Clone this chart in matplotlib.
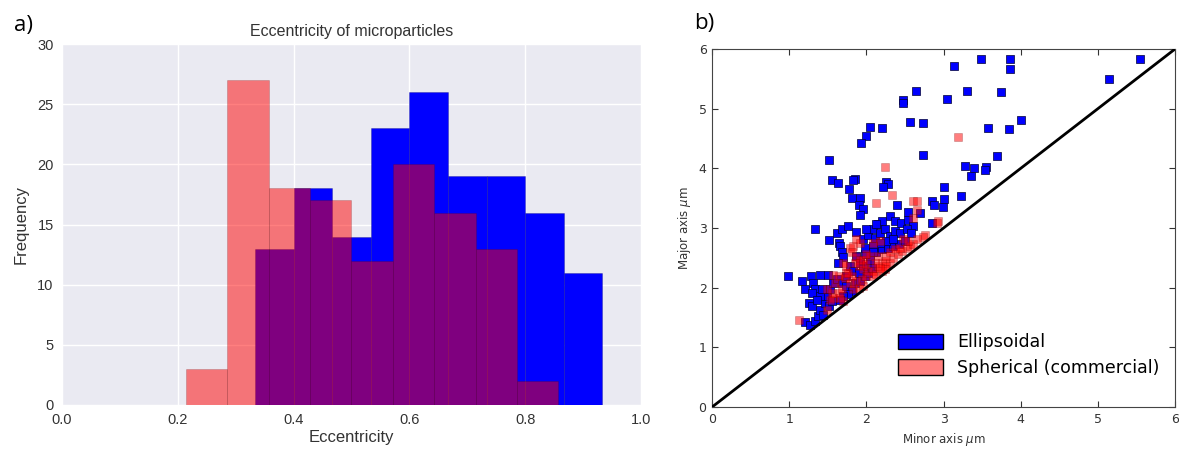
import numpy as np
import matplotlib
matplotlib.use("Agg")
import matplotlib.pyplot as plt
from matplotlib.patches import Patch

# histogram (a): bin edges and counts
ell_edges = [k / 15 for k in range(1, 15)]
ell_counts = [0, 0, 0, 0, 13, 18, 14, 23, 26, 19, 19, 16, 11]
sph_edges = [k / 14 for k in range(1, 13)]
sph_counts = [0, 0, 3, 27, 18, 17, 12, 20, 16, 13, 2]

# scatter (b): minor / major axis in um
ell_minor = [5.55, 5.15, 3.14, 3.48, 3.86, 3.86, 2.64, 3.30, 3.74, 2.48, 2.48, 3.04,
             2.57, 2.74, 3.58, 3.85, 4.00, 2.05, 2.20, 2.00, 1.93, 2.74, 3.69, 1.52,
             3.28, 3.39, 3.55, 3.54, 3.35, 1.56, 1.63, 1.85, 1.82, 2.26, 2.28, 2.21,
             1.78, 1.81, 1.92, 3.01, 3.01, 2.99, 3.23, 2.85, 2.87, 2.40, 1.91, 1.95,
             1.92, 2.54, 2.69, 2.85, 1.34, 1.51, 1.62, 1.69, 1.76, 1.86, 1.65, 1.66,
             1.68, 1.70, 1.63, 1.79, 0.99, 1.16, 1.28, 1.40, 1.50, 1.21, 1.31, 1.34,
             1.30, 1.26, 1.29, 1.21, 1.27, 1.34, 1.37, 1.40, 1.44, 1.46, 1.49, 1.53,
             1.57, 1.40, 1.42, 1.36, 1.51, 1.55, 1.62, 1.68, 1.74, 1.81, 1.76, 1.70,
             1.66, 1.85, 1.92, 1.98, 2.02, 2.07, 1.96, 2.05, 1.98, 2.13, 2.20, 2.28,
             2.35, 2.42, 2.50, 1.96, 2.02, 2.09, 2.15, 2.20, 2.30, 2.37, 2.45, 2.54,
             2.61, 2.11, 2.17, 2.24, 2.30, 2.37, 2.43, 2.52, 2.26, 2.17, 2.09, 1.98,
             2.35, 2.13, 2.00, 2.58, 1.87, 1.92, 1.83, 1.74, 1.90, 2.09]
ell_major = [5.84, 5.50, 5.71, 5.83, 5.83, 5.67, 5.29, 5.29, 5.28, 5.15, 5.10, 5.17,
             4.78, 4.76, 4.68, 4.66, 4.81, 4.69, 4.68, 4.54, 4.42, 4.23, 4.20, 4.14,
             4.04, 4.00, 4.03, 3.97, 3.87, 3.81, 3.76, 3.83, 3.80, 3.77, 3.73, 3.69,
             3.66, 3.50, 3.51, 3.69, 3.49, 3.35, 3.54, 3.46, 3.39, 3.38, 3.38, 3.32,
             3.21, 3.27, 3.25, 3.08, 2.98, 2.80, 2.92, 2.98, 3.03, 2.94, 2.75, 2.70,
             2.59, 2.51, 2.42, 2.36, 2.20, 2.11, 2.20, 2.22, 2.22, 1.98, 2.07, 1.98,
             1.91, 1.75, 1.69, 1.43, 1.38, 1.44, 1.52, 1.63, 1.55, 1.75, 1.86, 1.97,
             2.08, 1.86, 1.97, 1.80, 1.69, 1.77, 2.14, 2.08, 2.03, 1.94, 1.89, 1.86,
             1.80, 2.08, 2.11, 2.19, 2.25, 2.33, 2.36, 2.47, 2.56, 2.59, 2.64, 2.67,
             2.70, 2.73, 2.78, 2.81, 2.89, 2.98, 3.06, 3.12, 3.20, 3.12, 3.09, 3.14,
             3.03, 2.84, 2.92, 2.98, 2.87, 2.95, 2.92, 2.98, 2.78, 2.75, 2.70, 2.67,
             2.81, 3.06, 2.98, 2.92, 2.53, 2.42, 2.28, 2.19, 2.25, 2.59]

sph_minor = [3.19, 2.24, 2.33, 2.12, 2.61, 2.66, 2.66, 2.61, 2.93, 2.91, 2.76, 2.73,
             1.12, 2.17, 1.79, 1.83, 1.81, 1.87, 1.92, 1.90, 1.96, 2.02, 2.09, 2.15,
             2.20, 2.24, 2.30, 2.26, 2.35, 2.41, 2.46, 2.52, 2.56, 2.61, 2.65, 2.13,
             2.20, 2.09, 2.00, 1.94, 1.87, 1.81, 1.74, 1.72, 1.64, 1.57, 1.59, 1.55,
             1.57, 1.64, 1.68, 1.70, 1.66, 1.49, 1.53, 1.76, 1.85, 1.96, 2.05, 2.26,
             2.30, 2.37, 2.43, 2.15, 2.11, 2.00, 2.24, 2.17, 1.87, 1.92, 2.09, 2.00,
             2.48, 2.54, 1.74, 1.70, 1.79, 1.83, 1.49, 1.96, 1.90]
sph_major = [4.53, 4.03, 3.55, 3.42, 3.46, 3.46, 3.31, 3.17, 3.12, 3.09, 2.89, 2.85,
             1.45, 2.78, 2.67, 2.70, 2.59, 2.51, 2.47, 2.36, 2.31, 2.28, 2.28, 2.36,
             2.42, 2.45, 2.42, 2.36, 2.50, 2.56, 2.61, 2.67, 2.70, 2.73, 2.81, 2.23,
             2.28, 2.19, 2.19, 2.14, 2.11, 2.19, 2.25, 2.17, 2.19, 2.22, 2.08, 1.91,
             1.83, 1.91, 1.97, 1.77, 1.83, 1.63, 1.80, 2.25, 2.42, 2.47, 2.53, 2.53,
             2.59, 2.64, 2.67, 2.53, 2.42, 2.39, 2.31, 2.33, 2.81, 2.75, 2.75, 2.56,
             2.81, 2.78, 2.36, 2.42, 2.08, 1.97, 1.97, 2.03, 2.00]

diag = [0, 6]

fig = plt.figure(figsize=(11.79, 4.5), dpi=100)

# ---- a) histogram, seaborn-like look
ax1 = fig.add_axes([0.0526, 0.10, 0.491, 0.802])
ax1.set_facecolor("#EAEAF2")
ax1.grid(True, color="white", lw=1)
ax1.set_axisbelow(True)
for s in ax1.spines.values():
    s.set_visible(False)

ell_mid = [(a + b) / 2 for a, b in zip(ell_edges[:-1], ell_edges[1:])]
sph_mid = [(a + b) / 2 for a, b in zip(sph_edges[:-1], sph_edges[1:])]
ax1.hist(ell_mid, bins=ell_edges, weights=ell_counts, color="blue",
         edgecolor=(0, 0, 0.4, 0.3), lw=0.6)
ax1.hist(sph_mid, bins=sph_edges, weights=sph_counts, color=(1, 0, 0, 0.5),
         edgecolor=(0.3, 0, 0, 0.2), lw=0.6)

ax1.set_xlim(0, 1)
ax1.set_ylim(0, 30)
ax1.set_xticks(np.arange(0, 1.01, 0.2))
ax1.set_yticks(range(0, 31, 5))
ax1.tick_params(length=0, labelsize=10.5, colors="#333333", pad=6)
ax1.set_xticklabels([f"{v:.1f}" for v in np.arange(0, 1.01, 0.2)], family="Liberation Sans")
ax1.set_yticklabels([str(v) for v in range(0, 31, 5)], family="Liberation Sans")
ax1.set_title("Eccentricity of microparticles", fontsize=11.5, color="#333333",
              family="Liberation Sans", pad=6)
ax1.set_xlabel("Eccentricity", fontsize=12, color="#333333", family="Liberation Sans", labelpad=2)
ax1.set_ylabel("Frequency", fontsize=12, color="#333333", family="Liberation Sans", labelpad=6)

# ---- b) scatter, classic matplotlib look
ax2 = fig.add_axes([0.604, 0.0956, 0.3926, 0.7954])
ax2.scatter(ell_minor, ell_major, marker="s", s=30, color="blue",
            edgecolor="#000033", lw=0.5, zorder=2)
ax2.scatter(sph_minor, sph_major, marker="s", s=30, color=(1, 0, 0, 0.5),
            edgecolor=(0.4, 0, 0, 0.3), lw=0.5, zorder=3)
ax2.plot(diag, diag, color="black", lw=2, zorder=4)
ax2.set_xlim(0, 6)
ax2.set_ylim(0, 6)
ax2.set_xticks(range(7))
ax2.set_yticks(range(7))
ax2.tick_params(direction="in", top=True, right=True, labelsize=9, length=4,
                colors="#333333", pad=4)
for s in ax2.spines.values():
    s.set_color("#444444")
ax2.set_xlabel(r"Minor axis $\mu$m", fontsize=8.5, color="#333333", labelpad=4)
ax2.set_ylabel(r"Major axis $\mu$m", fontsize=8.5, color="#333333", labelpad=4)

handles = [Patch(facecolor="blue", edgecolor="black", label="Ellipsoidal"),
           Patch(facecolor=(1, 0, 0, 0.5), edgecolor="black", label="Spherical (commercial)")]
ax2.legend(handles=handles, loc="lower right", bbox_to_anchor=(1.0, 0.04), frameon=False,
           fontsize=12.5, handlelength=2.6, handleheight=1.0, labelspacing=0.45)

fig.text(0.012, 0.93, "a)", fontsize=16, family="Open Sans")
fig.text(0.589, 0.935, "b)", fontsize=16, family="Open Sans")

fig.savefig("out.png", dpi=100)
